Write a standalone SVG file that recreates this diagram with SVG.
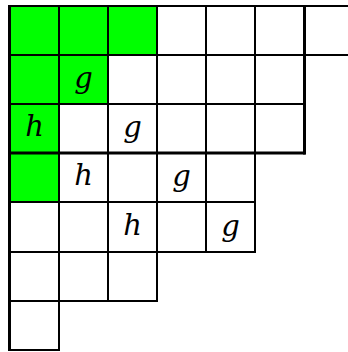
<svg xmlns="http://www.w3.org/2000/svg" width="348" height="352" viewBox="0 0 348 352">
<style>
.g{fill:#00ff00}
.l{stroke:#000;stroke-width:2;fill:none}
.t{stroke-width:3}
</style>
<rect width="348" height="352" fill="#fff"/>
<g id="fills">
<rect class="g" x="10" y="6" width="147" height="49"/>
<rect class="g" x="10" y="55" width="98" height="49"/>
<rect class="g" x="10" y="104" width="49" height="98"/>
</g>
<g id="grid" class="l">
<line x1="9" y1="6" x2="348" y2="6"/>
<line x1="9" y1="55" x2="348" y2="55"/>
<line x1="9" y1="104" x2="305" y2="104"/>
<line class="t" x1="9" y1="153" x2="305.5" y2="153"/>
<line x1="9" y1="202" x2="256" y2="202"/>
<line x1="9" y1="252" x2="256" y2="252"/>
<line x1="9" y1="301" x2="158" y2="301"/>
<line x1="9" y1="350" x2="60" y2="350"/>
<line class="t" x1="9.5" y1="5" x2="9.5" y2="351"/>
<line x1="59" y1="6" x2="59" y2="351"/>
<line x1="108" y1="6" x2="108" y2="302"/>
<line x1="157" y1="6" x2="157" y2="302"/>
<line x1="206" y1="6" x2="206" y2="253"/>
<line x1="255" y1="6" x2="255" y2="253"/>
<line class="t" x1="304.5" y1="5" x2="304.5" y2="154.5"/>
</g>
<g id="labels" font-family="DejaVu Serif, serif" font-style="italic" font-size="29" text-anchor="middle" fill="#000">
<text x="83.5" y="88">g</text>
<text x="34.5" y="136">h</text>
<text x="132.5" y="137">g</text>
<text x="83.5" y="185">h</text>
<text x="181.5" y="186">g</text>
<text x="132.5" y="235">h</text>
<text x="230.5" y="236">g</text>
</g>
</svg>
